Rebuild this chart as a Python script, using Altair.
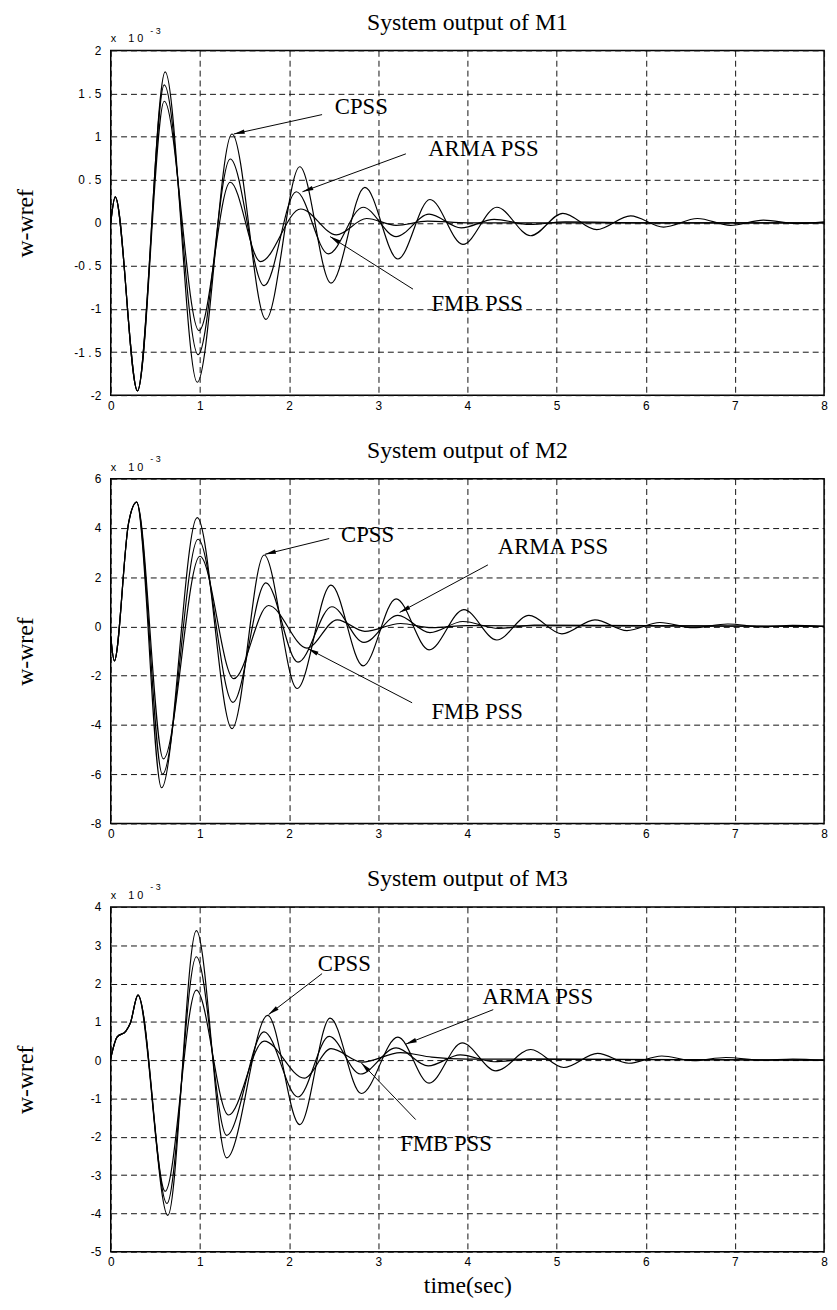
import math
import altair as alt
import pandas as pd

SERIES = ["CPSS", "ARMA PSS", "FMB PSS"]
X_TICKS = [0, 1, 2, 3, 4, 5, 6, 7, 8]

# ---------------- M1 (values in units of 1e-3) ----------------
M1_CPSS_T = [0, 0.05, 0.3, 0.61, 0.97, 1.36, 1.74, 2.12, 2.47, 2.85, 3.22, 3.58, 3.95,
             4.33, 4.71, 5.07, 5.45, 5.83, 6.2, 6.58, 6.95, 7.32, 7.7, 8.0]
M1_CPSS_V = [0, 0.3, -1.95, 1.75, -1.85, 1.03, -1.12, 0.65, -0.70, 0.41, -0.42, 0.27, -0.25,
             0.18, -0.15, 0.11, -0.08, 0.08, -0.05, 0.05, -0.03, 0.03, -0.01, 0.01]
M1_ARMA_T = [0, 0.05, 0.3, 0.6, 0.98, 1.34, 1.72, 2.08, 2.44, 2.83, 3.2, 3.57, 3.93, 4.3,
             4.7, 5.1, 6.0, 8.0]
M1_ARMA_V = [0, 0.3, -1.95, 1.6, -1.53, 0.74, -0.73, 0.36, -0.36, 0.18, -0.16, 0.1, -0.06,
             0.04, -0.02, 0.01, 0, 0]
M1_FMB_T = [0, 0.05, 0.3, 0.6, 0.99, 1.34, 1.68, 2.13, 2.53, 2.87, 3.2, 3.55, 4.0, 8.0]
M1_FMB_V = [0, 0.3, -1.95, 1.41, -1.25, 0.47, -0.45, 0.16, -0.14, 0.05, -0.03, 0.02, 0, 0]
M1_Y_TICKS = [-2, -1.5, -1, -0.5, 0, 0.5, 1, 1.5, 2]
M1_LABEL_T = [2.81, 4.18, 4.11]
M1_LABEL_V = [1.34, 0.85, -0.94]
M1_FROM_T = [2.37, 3.31, 3.39]
M1_FROM_V = [1.255, 0.80, -0.77]
M1_TO_T = [1.38, 2.15, 2.46]
M1_TO_V = [1.03, 0.36, -0.16]

# ---------------- M2 ----------------
M2_CPSS_T = [0, 0.04, 0.2, 0.29, 0.57, 0.97, 1.36, 1.72, 2.09, 2.47, 2.83, 3.2, 3.57, 3.96,
             4.33, 4.69, 5.06, 5.43, 5.79, 6.16, 6.53, 6.92, 7.3, 7.65, 8.0]
M2_CPSS_V = [-0.4, -1.4, 4.2, 5.05, -6.55, 4.42, -4.15, 2.9, -2.52, 1.68, -1.6, 1.12, -0.95,
             0.68, -0.55, 0.45, -0.3, 0.27, -0.17, 0.16, -0.05, 0.1, -0.02, 0.04, 0.0]
M2_ARMA_T = [0, 0.04, 0.2, 0.29, 0.58, 0.98, 1.37, 1.74, 2.1, 2.48, 2.84, 3.22, 3.58, 3.95,
             4.35, 4.75, 8.0]
M2_ARMA_V = [-0.4, -1.4, 4.2, 5.05, -6.0, 3.54, -3.08, 1.77, -1.45, 0.8, -0.65, 0.45, -0.25,
             0.2, -0.08, 0.05, 0]
M2_FMB_T = [0, 0.04, 0.2, 0.29, 0.59, 1.0, 1.38, 1.77, 2.2, 2.54, 2.85, 3.25, 3.6, 4.0, 8.0]
M2_FMB_V = [-0.4, -1.4, 4.2, 5.05, -5.38, 2.85, -2.12, 0.85, -0.88, 0.27, -0.2, 0.12, -0.05,
            0.03, 0]
M2_Y_TICKS = [-8, -6, -4, -2, 0, 2, 4, 6]
M2_LABEL_T = [2.88, 4.96, 4.11]
M2_LABEL_V = [3.71, 3.24, -3.48]
M2_FROM_T = [2.45, 4.23, 3.38]
M2_FROM_V = [3.57, 2.5, -3.1]
M2_TO_T = [1.73, 3.24, 2.21]
M2_TO_V = [2.93, 0.57, -0.9]

# ---------------- M3 ----------------
M3_CPSS_T = [0, 0.07, 0.17, 0.22, 0.305, 0.64, 0.96, 1.3, 1.76, 2.12, 2.46, 2.81, 3.22,
             3.57, 3.94, 4.32, 4.71, 5.08, 5.46, 5.81, 6.18, 6.53, 6.9, 7.3, 7.65, 8.0]
M3_CPSS_V = [0.05, 0.6, 0.76, 0.97, 1.7, -4.05, 3.38, -2.55, 1.17, -1.68, 1.1, -0.87, 0.6,
             -0.6, 0.45, -0.28, 0.28, -0.19, 0.18, -0.08, 0.11, -0.01, 0.07, 0.0, 0.03, 0.0]
M3_ARMA_T = [0, 0.07, 0.17, 0.22, 0.305, 0.63, 0.96, 1.3, 1.72, 2.1, 2.45, 2.8, 3.2, 3.56,
             3.92, 4.3, 4.7, 8.0]
M3_ARMA_V = [0.05, 0.6, 0.76, 0.97, 1.7, -3.74, 2.7, -1.96, 0.74, -0.96, 0.62, -0.36, 0.32,
             -0.15, 0.14, -0.04, 0.03, 0]
M3_FMB_T = [0, 0.07, 0.17, 0.22, 0.305, 0.61, 0.96, 1.32, 1.72, 2.17, 2.47, 2.82, 3.25, 3.6,
            4.0, 8.0]
M3_FMB_V = [0.05, 0.6, 0.76, 0.97, 1.7, -3.42, 1.83, -1.43, 0.5, -0.47, 0.3, -0.05, 0.2, 0.08,
            0.03, 0]
M3_Y_TICKS = [-5, -4, -3, -2, -1, 0, 1, 2, 3, 4]
M3_LABEL_T = [2.62, 4.79, 3.76]
M3_LABEL_V = [2.52, 1.66, -2.18]
M3_FROM_T = [2.37, 4.29, 3.42]
M3_FROM_V = [2.26, 1.32, -1.55]
M3_TO_T = [1.77, 3.31, 2.81]
M3_TO_V = [1.19, 0.42, -0.07]

W, H = 722, 349
SERIF = "Liberation Serif"
SANS = "Liberation Sans"
ARROW_PATH = "M0,0L-0.45,2.2L0.45,2.2Z"
NB = "\u00a0"


def make_panel(title, curves, yticks, lt, lv, ft, fv, tt, tv, show_xtitle):
    ymin, ymax = yticks[0], yticks[-1]
    rows = []
    for name, (ts, vs) in zip(SERIES, curves):
        rows += [{"series": name, "t": t, "v": v} for t, v in zip(ts, vs)]
    df = pd.DataFrame(rows)

    xs = alt.Scale(domain=[0, 8], nice=False, zero=False)
    ys = alt.Scale(domain=[ymin, ymax], nice=False, zero=False)

    grid = dict(grid=True, gridColor="#111", gridDash=[6, 4], gridWidth=1, gridOpacity=1,
                ticks=False, domain=False, labelFont=SANS, labelFontSize=12,
                labelColor="black")
    xkw = dict(values=X_TICKS, labelPadding=5, labelFlush=False, **grid)
    if show_xtitle:
        xkw.update(title="time(sec)", titleFont=SERIF, titleFontSize=24,
                   titleFontWeight="normal", titleColor="black", titlePadding=6)
    else:
        xkw.update(title="")
    xaxis = alt.Axis(**xkw)
    yaxis = alt.Axis(values=yticks, labelPadding=10,
                     labelExpr="replace(toString(datum.value), '.', ' . ')",
                     title="w-wref", titleFont=SERIF, titleFontSize=24,
                     titleFontWeight="normal", titleColor="black", titleAngle=270,
                     titleX=-79, titleY=H / 2, titleAlign="center",
                     titleBaseline="alphabetic", **grid)

    def X(f):
        return alt.X(f, scale=xs, axis=xaxis)

    def Y(f):
        return alt.Y(f, scale=ys, axis=yaxis)

    lines = alt.Chart(df).mark_line(color="black", strokeWidth=1.2,
                                    interpolate="monotone").encode(
        x=X("t:Q"), y=Y("v:Q"), detail="series:N",
    )

    ppx = W / 8.0
    ppy = H / float(ymax - ymin)
    angs = []
    for a, b, c, d in zip(ft, fv, tt, tv):
        ang = math.degrees(math.atan2((c - a) * ppx, (d - b) * ppy)) % 360
        angs.append(ang)
    adf = pd.DataFrame({"label": SERIES, "lt": lt, "lv": lv, "ft": ft, "fv": fv,
                        "tt": tt, "tv": tv, "ang": angs})

    rules = alt.Chart(adf).mark_rule(color="black", strokeWidth=1).encode(
        x=X("ft:Q"), y=Y("fv:Q"), x2="tt:Q", y2="tv:Q",
    )
    heads = alt.Chart(adf).mark_point(shape=ARROW_PATH, filled=True, color="black",
                                      size=100, opacity=1, strokeWidth=0).encode(
        x=X("tt:Q"), y=Y("tv:Q"), angle=alt.Angle("ang:Q", scale=None),
    )
    labels = alt.Chart(adf).mark_text(font=SERIF, fontSize=23, color="black",
                                      align="center", baseline="middle").encode(
        x=X("lt:Q"), y=Y("lv:Q"), text="label:N",
    )
    corner = pd.DataFrame({"t": [0], "v": [ymax]})
    exp_main = alt.Chart(corner).mark_text(
        text="x" + NB * 4 + "1" + NB + "0", align="left", baseline="alphabetic",
        dy=-8, font=SANS, fontSize=11, color="black").encode(x=X("t:Q"), y=Y("v:Q"))
    exp_sup = alt.Chart(corner).mark_text(
        text="-" + NB + "3", align="left", baseline="alphabetic",
        dx=40, dy=-17, font=SANS, fontSize=9, color="black").encode(x=X("t:Q"), y=Y("v:Q"))

    return alt.layer(lines, rules, heads, labels, exp_main, exp_sup).properties(
        width=W, height=H,
        title=alt.TitleParams(text=title, font=SERIF, fontSize=24, fontWeight="normal",
                              color="black", anchor="middle", baseline="alphabetic",
                              offset=-27),
    )


p1 = make_panel("System output of M1",
                [(M1_CPSS_T, M1_CPSS_V), (M1_ARMA_T, M1_ARMA_V), (M1_FMB_T, M1_FMB_V)],
                M1_Y_TICKS, M1_LABEL_T, M1_LABEL_V, M1_FROM_T, M1_FROM_V, M1_TO_T, M1_TO_V,
                False)
p2 = make_panel("System output of M2",
                [(M2_CPSS_T, M2_CPSS_V), (M2_ARMA_T, M2_ARMA_V), (M2_FMB_T, M2_FMB_V)],
                M2_Y_TICKS, M2_LABEL_T, M2_LABEL_V, M2_FROM_T, M2_FROM_V, M2_TO_T, M2_TO_V,
                False)
p3 = make_panel("System output of M3",
                [(M3_CPSS_T, M3_CPSS_V), (M3_ARMA_T, M3_ARMA_V), (M3_FMB_T, M3_FMB_V)],
                M3_Y_TICKS, M3_LABEL_T, M3_LABEL_V, M3_FROM_T, M3_FROM_V, M3_TO_T, M3_TO_V,
                True)

chart = alt.vconcat(p1, p2, p3, spacing=26.5).properties(
    padding={"left": 5, "top": -6, "right": 0, "bottom": 0},
    background="white",
).configure_view(stroke="black", strokeWidth=1.5)

chart.save("out.html", embed_options={"renderer": "svg", "actions": False})
